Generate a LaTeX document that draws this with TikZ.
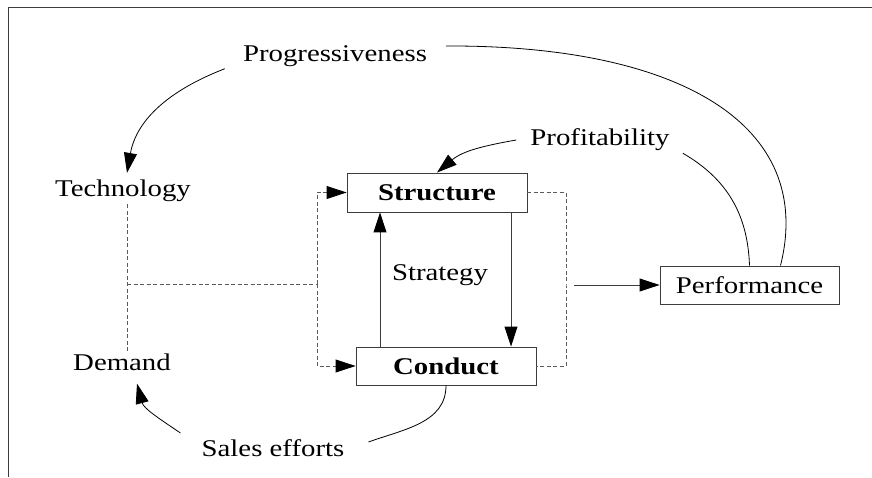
\documentclass[tikz,border=0pt]{standalone}
\usepackage{fontspec}
\setmainfont{Liberation Serif}[FakeStretch=1.2]
\usetikzlibrary{arrows.meta}
\usepackage{xcolor}
\definecolor{boxline}{HTML}{3C3C3C}
\definecolor{dashgray}{HTML}{5A5A5A}

\begin{document}
\begin{tikzpicture}[x=1pt,y=1pt,
		word/.style={font=\fontsize{24}{26}\selectfont, inner sep=2pt},
		block/.style={draw=boxline, line width=0.9pt, minimum width=180pt, minimum height=39pt, inner sep=2pt},
		pointer/.style={-{Triangle[length=20pt,width=13pt,color=black]}},
		solidline/.style={line width=0.9pt, color=boxline},
		dashedline/.style={line width=0.9pt, color=dashgray, dash pattern=on 4pt off 2.5pt},
		curve/.style={line width=0.8pt, color=black}]
		\useasboundingbox (0,0) rectangle (872,477);
		% frame
		\draw [solidline] (872,470) -- (8,470) -- (8,0);
		%
		\node (prog) [word] at (335,421) {Progressiveness};
		\node (tech) [word] at (123,286) {Technology};
		\node (prof) [word] at (600,337) {Profitability};
		\node (dem) [word] at (122,115) {Demand};
		\node (sales) [word] at (273,29) {Sales efforts};
		\node (strat) [word] at (440,202) {Strategy};
		%
		\node (struct) [block, font=\bfseries\fontsize{24}{26}\selectfont] at (437,284.5) {Structure};
		\node (cond) [block, minimum height=38pt, font=\bfseries\fontsize{24}{26}\selectfont] at (446,111) {Conduct};
		\node (perf) [block, minimum width=179pt, minimum height=38pt, font=\fontsize{24}{26}\selectfont] at (749.5,192) {Performance};
		%
		\coordinate (busL) at (317,193);
		\coordinate (busR) at (566,192);
		\coordinate (upx) at (380,0);
		\coordinate (downx) at (511,0);
		\coordinate (techdash) at ([xshift=4pt]tech.south);
		% dashed links
		\draw [dashedline] (techdash) -- (techdash |- dem.north);
		\draw [dashedline] (techdash |- busL) -- (busL);
		\draw [dashedline, pointer] (busL) |- (struct.west);
		\draw [dashedline, pointer] (busL) |- (cond.west);
		\draw [dashedline] (struct.east) -| (busR) |- (cond.east);
		% solid links
		\draw [solidline, pointer] (upx |- cond.north) -- (upx |- struct.south);
		\draw [solidline, pointer] (downx |- struct.south) -- (downx |- cond.north);
		\draw [solidline, pointer] ([xshift=8pt]busR) -- (perf.west);
		% curves
		\draw [curve, pointer] ([xshift=-16pt]prog.south west) to[out=201, in=80] ([shift={(4pt,5pt)}]tech.north);
		\draw [curve, pointer] ([xshift=-12pt]prof.west) to[out=190, in=40] (struct.north);
		\draw [curve] ([shift={(17pt,10pt)}]prog.east) .. controls +(235,1) and +(35,140) .. ([xshift=31pt]perf.north);
		\draw [curve] ([xshift=11pt]prof.south east) to[out=-30, in=92] (perf.north);
		\draw [curve] (cond.south) to[out=-90, in=20] ([shift={(22pt,6pt)}]sales.east);
		\draw [curve, pointer] ([shift={(-19pt,15pt)}]sales.west) to[out=146, in=-75] ([shift={(15pt,-11pt)}]dem.south);
	\end{tikzpicture}
\end{document}
